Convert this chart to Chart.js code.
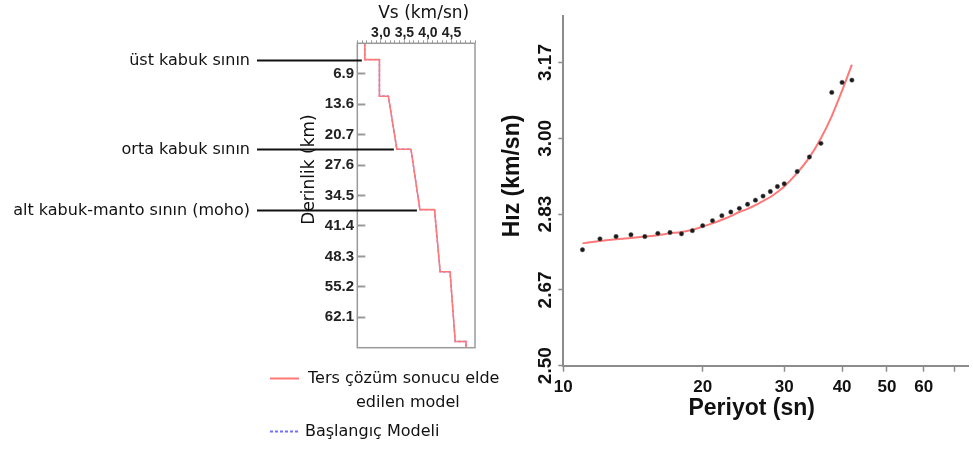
<!DOCTYPE html>
<html>
<head>
<meta charset="utf-8">
<script src="https://cdn.jsdelivr.net/npm/chart.js"></script>
<style>
  html, body { margin: 0; padding: 0; background: #fff; }
  #wrap { position: relative; width: 973px; height: 450px; overflow: hidden; }
  canvas { position: absolute; top: 0; }
  #modelChart { left: 0; }
  #dispChart { left: 490px; }
</style>
</head>
<body>
<div id="wrap">
  <canvas id="modelChart" width="530" height="450"></canvas>
  <canvas id="dispChart" width="483" height="450"></canvas>
</div>
<script>
// ---- velocity model (left) ----
const modelVs = [2.66, 2.66, 2.97, 2.97, 3.16, 3.34, 3.64, 3.83, 4.14, 4.26, 4.47, 4.58, 4.81, 4.81];
const modelDepth = [0, 3.7, 3.7, 12.0, 12.0, 24.0, 24.0, 37.7, 37.7, 51.8, 51.8, 67.6, 67.6, 69];
const startVs = [2.66, 2.66, 2.97, 2.97, 3.16, 3.34, 3.64, 3.83, 4.14, 4.26, 4.47, 4.58, 4.81, 4.81];
const startDepth = [0, 3.7, 3.7, 12.0, 12.0, 24.0, 24.0, 37.7, 37.7, 51.8, 51.8, 67.6, 67.6, 69];

const depthTicks = [6.9, 13.8, 20.7, 27.6, 34.5, 41.4, 48.3, 55.2, 62.1];
const depthLabels = ["6.9", "13.6", "20.7", "27.6", "34.5", "41.4", "48.3", "55.2", "62.1"];
const vsTicks = [3.0, 3.5, 4.0, 4.5];
const vsLabels = ["3,0", "3,5", "4,0", "4,5"];

const boundaryNames = ["üst kabuk sının", "orta kabuk sının", "alt kabuk-manto sının (moho)"];
const boundaryDepth = [3.7, 24.0, 37.7];
const boundaryVs = [2.66, 3.34, 3.83];

// ---- dispersion curve (right) ----
const periods = [11, 12, 13, 14, 15, 16, 17, 18, 19, 20, 21, 22, 23, 24, 25, 26, 27, 28, 29, 30, 32, 34, 36, 38, 40, 42];
const observedVel = [2.755, 2.779, 2.784, 2.788, 2.784, 2.791, 2.793, 2.790, 2.797, 2.808, 2.819, 2.830, 2.838,
  2.846, 2.855, 2.864, 2.873, 2.883, 2.894, 2.900, 2.927, 2.959, 2.989, 3.101, 3.123, 3.128];
const computedVel = [2.769, 2.774, 2.778, 2.781, 2.784, 2.787, 2.791, 2.794, 2.799, 2.806, 2.813, 2.821, 2.829,
  2.838, 2.845, 2.853, 2.862, 2.871, 2.882, 2.894, 2.924, 2.958, 3.000, 3.049, 3.105, 3.162];

const periodTicks = [10, 20, 30, 40, 50, 60, 70];
const periodLabels = ["10", "20", "30", "40", "50", "60", ""];
const velTicks = [2.5, 2.6667, 2.8333, 3.0, 3.1667];
const velLabels = ["2.50", "2.67", "2.83", "3.00", "3.17"];

const RED = "#ff7878";
const BLUE = "#7070ff";
const AXIS = "#8c8c8c";
const narrow = "'Liberation Sans Narrow', 'Liberation Sans', Arial, sans-serif";
const dejavu = "'DejaVu Sans', sans-serif";

Chart.defaults.font.family = "'Liberation Sans', Arial, sans-serif";
Chart.defaults.color = "#111";

const toPoints = (xs, ys) => xs.map((x, i) => ({ x: x, y: ys[i] }));

//******* extra texts, boundary lines and legend of the model panel */
const modelExtras = {
  id: "modelExtras",
  afterDraw(chart) {
    const ctx = chart.ctx;
    const area = chart.chartArea;
    const xs = chart.scales.x;
    const ys = chart.scales.y;
    ctx.save();

    ctx.strokeStyle = "#9a9a9a";
    ctx.lineWidth = 1.5;
    ctx.strokeRect(area.left, area.top, area.right - area.left, area.bottom - area.top);

    ctx.fillStyle = "#111";
    ctx.font = "17px " + dejavu;
    ctx.textAlign = "center";
    ctx.textBaseline = "middle";
    ctx.fillText("Vs (km/sn)", 423.7, 14);

    ctx.save();
    ctx.translate(309.5, 169.5);
    ctx.rotate(-Math.PI / 2);
    ctx.fillText("Derinlik (km)", 0, 0);
    ctx.restore();

    ctx.font = "16px " + dejavu;
    ctx.textAlign = "right";
    ctx.strokeStyle = "#111";
    ctx.lineWidth = 2;
    boundaryNames.forEach((name, i) => {
      const y = Math.round(ys.getPixelForValue(boundaryDepth[i])) + 0.5;
      const xEnd = xs.getPixelForValue(boundaryVs[i]) - 3;
      ctx.fillText(name, 250, y);
      ctx.beginPath();
      ctx.moveTo(257, y);
      ctx.lineTo(xEnd, y);
      ctx.stroke();
    });

    // legend
    ctx.textAlign = "left";
    ctx.lineWidth = 2;
    ctx.strokeStyle = RED;
    ctx.beginPath();
    ctx.moveTo(270, 378.5);
    ctx.lineTo(299, 378.5);
    ctx.stroke();
    ctx.fillText("Ters çözüm sonucu elde", 308, 379);
    ctx.fillText("edilen model", 356, 403);

    ctx.strokeStyle = BLUE;
    ctx.setLineDash([3, 2]);
    ctx.beginPath();
    ctx.moveTo(270, 431.5);
    ctx.lineTo(298, 431.5);
    ctx.stroke();
    ctx.setLineDash([]);
    ctx.fillText("Başlangıç Modeli", 305, 432);

    ctx.restore();
  },
};

const dispExtras = {
  id: "dispExtras",
  afterDraw(chart) {
    const ctx = chart.ctx;
    ctx.save();
    ctx.fillStyle = "#111";
    ctx.font = "bold 23px 'Liberation Sans', Arial, sans-serif";
    ctx.textAlign = "center";
    ctx.textBaseline = "middle";
    ctx.fillText("Periyot (sn)", 261.7, 409);
    ctx.translate(23, 176);
    ctx.rotate(-Math.PI / 2);
    ctx.fillText("Hız (km/sn)", 0, 0);
    ctx.restore();
  },
};

const modelChart = new Chart(document.getElementById("modelChart"), {
  type: "scatter",
  data: {
    datasets: [
      {
        label: "Ters çözüm sonucu elde edilen model",
        data: toPoints(modelVs, modelDepth),
        showLine: true,
        borderColor: RED,
        borderWidth: 1.6,
        pointRadius: 0,
      },
      {
        label: "Başlangıç Modeli",
        data: toPoints(startVs, startDepth),
        showLine: true,
        borderColor: BLUE,
        borderWidth: 1.4,
        borderDash: [3, 2],
        pointRadius: 0,
      },
    ],
  },
  options: {
    responsive: false,
    animation: false,
    layout: { padding: { left: 290, right: 55, top: 0, bottom: 102.3 } },
    plugins: { legend: { display: false }, tooltip: { enabled: false } },
    scales: {
      x: {
        type: "linear",
        position: "top",
        min: 2.5,
        max: 5.0,
        afterFit: (s) => { s.height = 43.3; },
        border: { display: false },
        grid: { drawOnChartArea: false, color: "#9a9a9a", tickLength: 3, tickWidth: 1 },
        ticks: {
          stepSize: 0.1,
          autoSkip: false,
          maxRotation: 0,
          padding: 0,
          color: "#222",
          font: { family: narrow, size: 14, weight: "bold", lineHeight: 1 },
          callback: (value) => {
            const i = vsTicks.findIndex((t) => Math.abs(t - value) < 1e-6);
            return i >= 0 ? vsLabels[i] : "";
          },
        },
      },
      y: {
        type: "linear",
        reverse: true,
        min: 0,
        max: 69,
        afterFit: (s) => { s.width = 67.3; },
        afterBuildTicks: (s) => { s.ticks = depthTicks.map((v) => ({ value: v })); },
        border: { display: false },
        grid: { drawOnChartArea: false, color: "#9a9a9a", tickLength: -8, tickWidth: 2 },
        ticks: {
          autoSkip: false,
          padding: 11.3,
          color: "#222",
          font: { family: narrow, size: 15, weight: "bold" },
          callback: (value, index) => depthLabels[index],
        },
      },
    },
  },
  plugins: [modelExtras],
});

const dispChart = new Chart(document.getElementById("dispChart"), {
  type: "scatter",
  data: {
    datasets: [
      {
        label: "gözlenen",
        data: toPoints(periods, observedVel),
        pointRadius: 2.2,
        pointBackgroundColor: "#1a1a1a",
        pointBorderColor: "#555",
        pointBorderWidth: 0.5,
      },
      {
        label: "hesaplanan",
        data: toPoints(periods, computedVel),
        showLine: true,
        borderColor: RED,
        borderWidth: 2,
        pointRadius: 0,
        cubicInterpolationMode: "monotone",
      },
    ],
  },
  options: {
    responsive: false,
    animation: false,
    layout: { padding: { left: 0, right: 0, top: 16, bottom: 0 } },
    plugins: { legend: { display: false }, tooltip: { enabled: false } },
    scales: {
      x: {
        type: "logarithmic",
        min: 10,
        max: 75,
        afterFit: (s) => { s.height = 84.3; },
        afterBuildTicks: (s) => { s.ticks = periodTicks.map((v) => ({ value: v })); },
        border: { color: AXIS, width: 2 },
        grid: { drawOnChartArea: false, color: AXIS, tickLength: 6, tickWidth: 1.5 },
        ticks: {
          autoSkip: false,
          maxRotation: 0,
          padding: 5,
          color: "#111",
          font: { size: 17, weight: "bold" },
          callback: (value, index) => periodLabels[index],
        },
      },
      y: {
        type: "linear",
        min: 2.5,
        max: 3.269,
        afterFit: (s) => { s.width = 73.3; },
        afterBuildTicks: (s) => { s.ticks = velTicks.map((v) => ({ value: v })); },
        border: { color: AXIS, width: 2 },
        grid: { drawOnChartArea: false, color: AXIS, tickLength: 5, tickWidth: 1.5 },
        ticks: {
          autoSkip: false,
          minRotation: 90,
          maxRotation: 90,
          crossAlign: "center",
          padding: -6,
          color: "#111",
          font: { size: 19, weight: "bold" },
          callback: (value, index) => velLabels[index],
        },
      },
    },
  },
  plugins: [dispExtras],
});
</script>
</body>
</html>
